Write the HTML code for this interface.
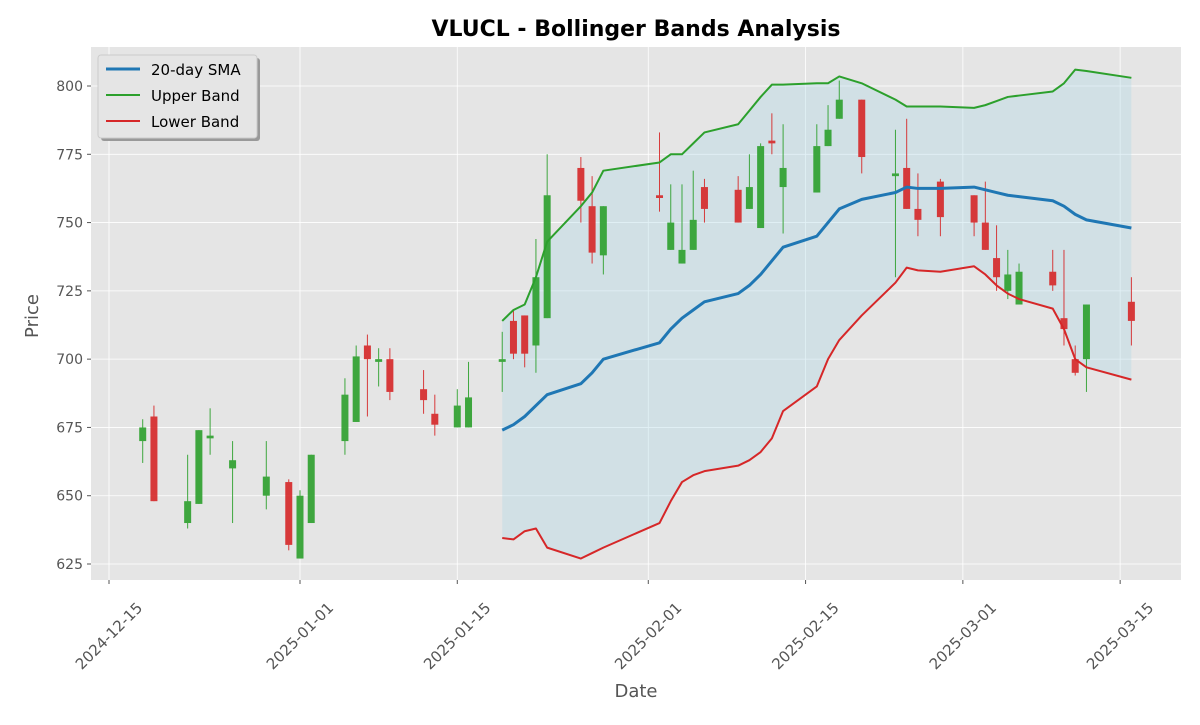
<!DOCTYPE html>
<html><head><meta charset="utf-8">
<style>
body{margin:0;background:#fff;font-family:"Liberation Sans","DejaVu Sans",sans-serif;}
svg text{font-family:"DejaVu Sans","Liberation Sans",sans-serif;}
</style></head>
<body>
<svg id="chart" width="1200" height="720" xmlns="http://www.w3.org/2000/svg"></svg>
<script>
const dates=["2024-12-18","2024-12-19","2024-12-22","2024-12-23","2024-12-24","2024-12-26","2024-12-29","2024-12-31","2025-01-01","2025-01-02","2025-01-05","2025-01-06","2025-01-07","2025-01-08","2025-01-09","2025-01-12","2025-01-13","2025-01-15","2025-01-16","2025-01-19","2025-01-20","2025-01-21","2025-01-22","2025-01-23","2025-01-26","2025-01-27","2025-01-28","2025-02-02","2025-02-03","2025-02-04","2025-02-05","2025-02-06","2025-02-09","2025-02-10","2025-02-11","2025-02-12","2025-02-13","2025-02-16","2025-02-17","2025-02-18","2025-02-20","2025-02-23","2025-02-24","2025-02-25","2025-02-27","2025-03-02","2025-03-03","2025-03-04","2025-03-05","2025-03-06","2025-03-09","2025-03-10","2025-03-11","2025-03-12","2025-03-16"];
const opens=[670,679,640,647,671,660,650,655,627,640,670,677,705,699,700,689,680,675,675,699,714,716,705,715,770,756,738,760,740,735,740,763,762,755,748,780,763,761,778,788,795,767,770,755,765,760,750,737,725,720,732,715,700,700,721];
const closes=[675,648,648,674,672,663,657,632,650,665,687,701,700,700,688,685,676,683,686,700,702,702,730,760,758,739,756,759,750,740,751,755,750,763,778,779,770,778,784,795,774,768,755,751,752,750,740,730,731,732,727,711,695,720,714];
const highs=[678,683,665,674,682,670,670,656,652,665,693,705,709,704,704,696,687,689,699,710,718,716,744,775,774,767,756,783,764,764,769,766,767,775,779,790,786,786,793,802,795,784,788,768,766,760,765,749,740,735,740,740,705,720,730];
const lows=[662,648,638,647,665,640,645,630,627,640,665,677,679,690,685,680,672,675,675,688,700,697,695,715,750,735,731,754,740,735,740,750,750,755,748,775,746,761,778,788,768,730,755,745,745,745,740,725,722,720,725,705,694,688,705];
const smaStart=19;
const sma=[674,676,679,683,687,691,695,700,706,711,715,718,721,724,727,731,736,741,745,750,755,758.5,761,763,762.5,762.5,763,762,761,760,759.5,758,756,753,751,748];
const upper=[714,718,720,730,743,756,761,769,772,775,775,779,783,786,791,796,800.5,800.5,801,801,803.5,801,795,792.5,792.5,792.5,792,793,794.5,796,796.5,798,801,806,805.5,803];
const lower=[634.5,634,637,638,631,627,629,631,640,648,655,657.5,659,661,663,666,671,681,690,700,707,716,728,733.5,732.5,732,734,731,727,724,722,718.5,711,700,697,692.5];
const yTicks=[625,650,675,700,725,750,775,800];
const xTicks=["2024-12-15","2025-01-01","2025-01-15","2025-02-01","2025-02-15","2025-03-01","2025-03-15"];

const NS="http://www.w3.org/2000/svg";
const svg=document.getElementById('chart');
function mk(t,a,p){const e=document.createElementNS(NS,t);for(const k in a)e.setAttribute(k,a[k]);(p||svg).appendChild(e);return e;}
const L=91,R=1181,T=47,B=580;
const d0=Date.UTC(2024,11,15);
function day(s){const p=s.split('-');return (Date.UTC(+p[0],+p[1]-1,+p[2])-d0)/86400000;}
function X(s){return 109+day(s)*11.235;}
function Y(v){return 564-(v-625)*2.7314;}

const bg=mk('rect',{x:L,y:T,width:R-L,height:B-T,fill:'#e5e5e5'});


const grid=mk('g',{});


yTicks.forEach(v=>{
  mk('line',{x1:L,x2:R,y1:Y(v),y2:Y(v),stroke:'#fff','stroke-width':0.8},grid);
  mk('line',{x1:L-4,x2:L,y1:Y(v),y2:Y(v),stroke:'#555'});
  const t=mk('text',{x:L-8,y:Y(v)+5,'text-anchor':'end','font-size':14,fill:'#555'});
  t.textContent=v;
  
  
});
xTicks.forEach(s=>{
  const x=X(s);
  mk('line',{x1:x,x2:x,y1:T,y2:B,stroke:'#fff','stroke-width':0.8},grid);
  mk('line',{x1:x,x2:x,y1:B,y2:B+4,stroke:'#555'});
  const cy=B+56;
  const t=mk('text',{x:x,y:cy+5,'text-anchor':'middle','font-size':15,fill:'#555',transform:`rotate(-45 ${x} ${cy})`});
  t.textContent=s;
  
  
});
const bd=dates.slice(smaStart);
let pts=bd.map((d,i)=>X(d)+','+Y(upper[i])).concat(bd.map((d,i)=>X(d)+','+Y(lower[i])).reverse());
const band=mk('polygon',{points:pts.join(' '),fill:'#add8e6','fill-opacity':0.35});


dates.forEach((d,i)=>{
  const up=closes[i]>=opens[i];const c=up?'#2ca02c':'#d62728';
  const g=mk('g',{opacity:0.9});
  
  
  const x=X(d);
  mk('line',{x1:x,x2:x,y1:Y(highs[i]),y2:Y(lows[i]),stroke:c,'stroke-width':1},g);
  const top=Y(Math.max(opens[i],closes[i])),bot=Y(Math.min(opens[i],closes[i]));
  mk('rect',{x:x-3.5,y:top,width:7,height:Math.max(1.5,bot-top),fill:c},g);
});
function line(arr,col,name){
  const p=mk('polyline',{points:bd.map((d,i)=>X(d)+','+Y(arr[i])).join(' '),fill:'none',stroke:col,'stroke-width':name==='sma-line'?3:2,'stroke-linejoin':'round'});
  
  
}
line(upper,'#2ca02c','upper-band-line');
line(lower,'#d62728','lower-band-line');
line(sma,'#1f77b4','sma-line');
const ti=mk('text',{x:636,y:36,'text-anchor':'middle','font-size':22,'font-weight':'bold',fill:'#000'});
ti.textContent='VLUCL - Bollinger Bands Analysis';


const xl=mk('text',{x:636,y:697,'text-anchor':'middle','font-size':18,fill:'#555'});
xl.textContent='Date';


const yl=mk('text',{x:38,y:316,'text-anchor':'middle','font-size':18,fill:'#555',transform:'rotate(-90 38 316)'});
yl.textContent='Price';


const lg=mk('g',{});


mk('rect',{x:101,y:58,width:159,height:83,rx:3,fill:'#999'},lg);
mk('rect',{x:98,y:55,width:159,height:83,rx:3,fill:'#e5e5e5',stroke:'#ccc'},lg);
[['20-day SMA','#1f77b4'],['Upper Band','#2ca02c'],['Lower Band','#d62728']].forEach((e,i)=>{
  const y=69+i*26;
  const it=mk('g',{},lg);
  
  
  mk('line',{x1:106,x2:140,y1:y,y2:y,stroke:e[1],'stroke-width':i==0?3:2},it);
  const t=mk('text',{x:151,y:y+6,'font-size':15,fill:'#000'},it);
  t.textContent=e[0];
});
</script>
</body></html>
